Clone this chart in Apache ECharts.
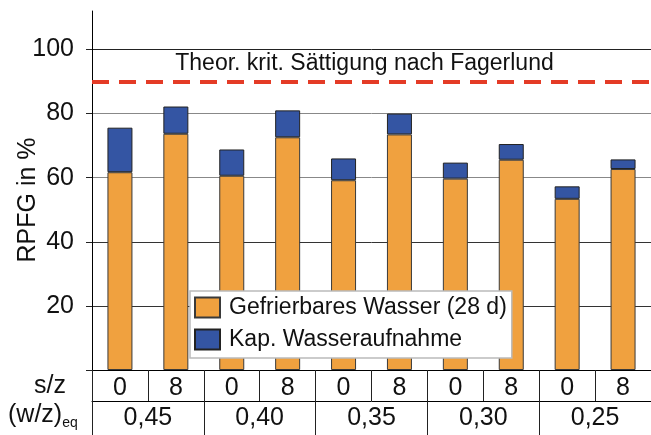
<!DOCTYPE html>
<html>
<head>
<meta charset="utf-8">
<script src="https://cdn.jsdelivr.net/npm/echarts@6/dist/echarts.min.js"></script>
<style>
html,body{margin:0;padding:0;background:#fff;}
#chart{width:651px;height:435px;}
</style>
</head>
<body>
<div id="chart"></div>
<script>
// ---- data ----
const wzGroups = ['0,45', '0,40', '0,35', '0,30', '0,25'];
const szValues = ['0', '8'];
const frozenWater = [61.7, 73.7, 60.6, 72.6, 59.2, 73.5, 59.7, 65.6, 53.4, 62.7];
const capTotal    = [75.6, 82.2, 68.8, 81.0, 66.0, 80.0, 64.7, 70.5, 57.3, 65.7];
const yTicks = [0, 20, 40, 60, 80, 100];
const critSaturation = 90;
const seriesNames = ['Gefrierbares Wasser (28 d)', 'Kap. Wasseraufnahme'];
const critLabel = 'Theor. krit. Sättigung nach Fagerlund';

// derived
const categories = [];
wzGroups.forEach(g => szValues.forEach(s => categories.push(g + '|' + s)));
const capUptake = capTotal.map((t, i) => +(t - frozenWater[i]).toFixed(1));

const FONT = 'Liberation Sans, Arial, sans-serif';
const chart = echarts.init(document.getElementById('chart'), null, {renderer: 'canvas'});

chart.setOption({
  animation: false,
  backgroundColor: '#fff',
  grid: {left: 92, right: 0, top: 11, bottom: 65, containLabel: false, outerBoundsMode: 'none'},
  legend: {
    orient: 'vertical',
    left: 190, top: 291,
    width: 325,
    padding: [5, 5, 7, 4],
    itemWidth: 25, itemHeight: 20, itemGap: 9,
    borderColor: '#bbb', borderWidth: 1.5,
    backgroundColor: '#fff',
    icon: 'rect',
    textStyle: {fontFamily: FONT, fontSize: 23, color: '#111', padding: [0, 0, 0, 4]},
    data: seriesNames
  },
  xAxis: [
    {
      type: 'category',
      data: categories,
      position: 'bottom',
      axisLine: {show: true, lineStyle: {color: '#000', width: 1}},
      axisTick: {show: true, interval: 0, length: 31, lineStyle: {color: '#222', width: 1}},
      axisLabel: {
        interval: 0, margin: 6,
        fontFamily: FONT, fontSize: 25, color: '#111',
        formatter: v => v.split('|')[1]
      },
      splitLine: {show: false}
    },
    {
      type: 'category',
      data: wzGroups,
      position: 'bottom',
      offset: 31,
      axisLine: {show: true, lineStyle: {color: '#000', width: 1}},
      axisTick: {show: true, interval: 0, length: 34, lineStyle: {color: '#222', width: 1}},
      axisLabel: {interval: 0, margin: 5, fontFamily: FONT, fontSize: 25, color: '#111'},
      splitLine: {show: false}
    }
  ],
  yAxis: {
    type: 'value',
    min: 0, max: 112, interval: 20,
    name: 'RPFG in %',
    nameLocation: 'middle',
    nameGap: 51,
    nameRotate: 90,
    nameMoveOverlap: false,
    nameTextStyle: {fontFamily: FONT, fontSize: 25, color: '#111', padding: [0, 19, 0, 0]},
    axisLine: {show: true, lineStyle: {color: '#000', width: 1}},
    axisTick: {show: true, length: 6, customValues: yTicks, lineStyle: {color: '#222'}},
    axisLabel: {
      margin: 18, fontFamily: FONT, fontSize: 25, color: '#111',
      formatter: v => (v > 0 && v % 20 === 0) ? String(v) : ''
    },
    splitLine: {show: true, lineStyle: {color: ['#000', '#333', '#333', '#888', '#888', '#222', '#888'], width: 1}}
  },
  series: [
    {
      name: seriesNames[0],
      type: 'bar',
      stack: 'rpfg',
      barWidth: 25,
      data: frozenWater,
      itemStyle: {color: '#F0A13F', borderColor: '#3a3a3a', borderWidth: 1},
      markLine: {
        silent: true,
        symbol: ['none', 'none'],
        lineStyle: {color: '#E43B26', width: 4, type: [17, 10]},
        label: {
          show: true, position: 'insideMiddleTop', distance: 6,
          formatter: critLabel,
          fontFamily: FONT, fontSize: 23, color: '#111',
          padding: [0, 14, 0, 0]
        },
        data: [{yAxis: critSaturation}]
      }
    },
    {
      name: seriesNames[1],
      type: 'bar',
      stack: 'rpfg',
      barWidth: 25,
      data: capUptake,
      itemStyle: {color: '#3455A3', borderColor: '#222', borderWidth: 1}
    }
  ],
  graphic: [
    {type: 'text', left: 34, top: 374, style: {text: 's/z', fontFamily: FONT, fontSize: 25, fill: '#111'}},
    {type: 'text', left: 8, top: 403, style: {
      text: '(w/z){s|eq}', fontFamily: FONT, fontSize: 25, fill: '#111',
      rich: {s: {fontFamily: FONT, fontSize: 14, fill: '#111', padding: [16, 0, 0, 0]}}
    }}
  ]
});
</script>
</body>
</html>
